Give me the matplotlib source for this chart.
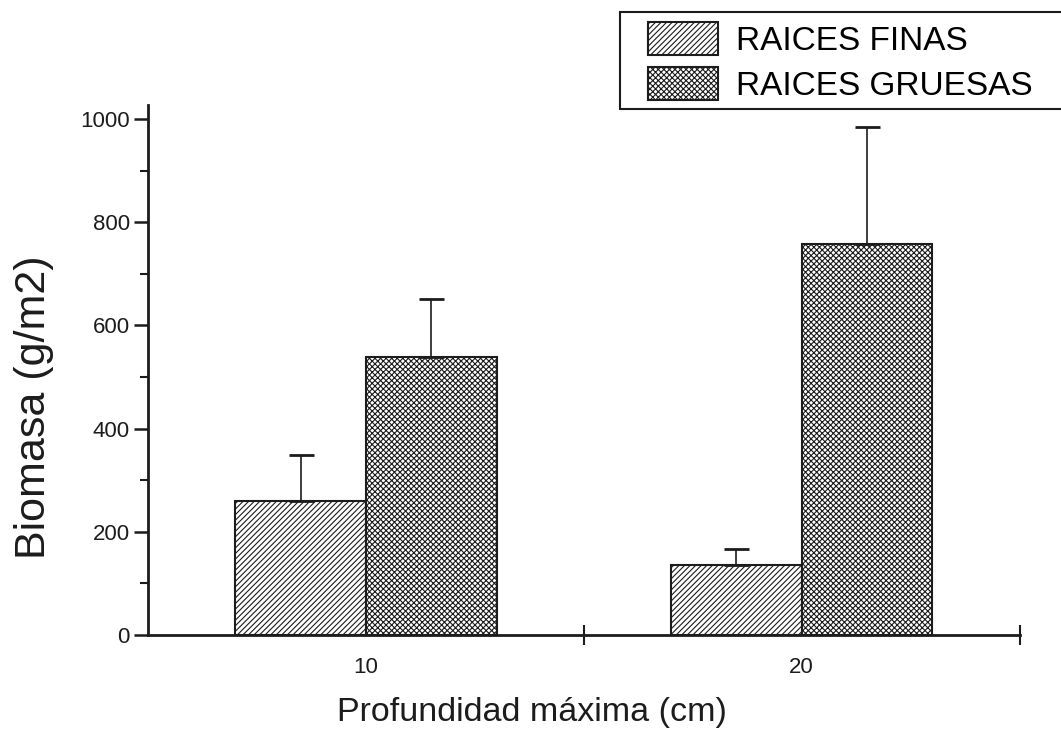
import matplotlib.pyplot as plt
import numpy as np
from matplotlib.patches import Rectangle

plt.rcParams['font.family'] = ['Liberation Sans', 'DejaVu Sans']
plt.rcParams['hatch.linewidth'] = 0.8

profundidad = ['10', '20']
finas = [260, 136]
finas_err = [89, 31]
gruesas = [539, 758]
gruesas_err = [112, 226]

ink = '#1c1c1c'
plt.rcParams['hatch.color'] = ink

fig = plt.figure(figsize=(10.61, 7.40), dpi=100)
ax = fig.add_axes([0.1395, 0.142, 0.8215, 0.716])

x = np.arange(len(profundidad))
w = 0.30

b1 = ax.bar(x - w / 2, finas, w, color='white', edgecolor=ink, linewidth=1.5,
            hatch='//////', label='RAICES FINAS')
b2 = ax.bar(x + w / 2, gruesas, w, color='white', edgecolor=ink, linewidth=1.5,
            hatch='xxxxxx', label='RAICES GRUESAS')
ax.errorbar(x - w / 2, finas, yerr=[np.zeros(2), finas_err], fmt='none',
            ecolor=ink, elinewidth=1.2, capsize=9, capthick=2)
ax.errorbar(x + w / 2, gruesas, yerr=[np.zeros(2), gruesas_err], fmt='none',
            ecolor=ink, elinewidth=1.2, capsize=9, capthick=2)

ax.set_xlim(-0.5, 1.5)
ax.set_ylim(0, 1027)
ax.set_xticks(x)
ax.set_xticklabels(profundidad)
ax.set_xticks([0.5, 1.5], minor=True)
ax.set_yticks(np.arange(0, 1001, 200))
ax.set_yticks(np.arange(100, 1000, 200), minor=True)

for side in ['top', 'right']:
    ax.spines[side].set_visible(False)
for side in ['left', 'bottom']:
    ax.spines[side].set_linewidth(2)
    ax.spines[side].set_color(ink)

ax.tick_params(axis='y', which='major', direction='out', length=10, width=1.8,
               labelsize=16, colors=ink, pad=3)
ax.tick_params(axis='y', which='minor', direction='out', length=6, width=1.5, colors=ink)
ax.tick_params(axis='x', which='major', direction='out', length=0, labelsize=16,
               colors=ink, pad=16)
ax.tick_params(axis='x', which='minor', direction='inout', length=14, width=1.5, colors=ink)

ax.set_xlabel('Profundidad máxima (cm)', fontsize=24.5, color=ink)
ax.xaxis.set_label_coords(0.44, -0.118)
ax.set_ylabel('Biomasa (g/m2)', fontsize=31, color=ink)
ax.yaxis.set_label_coords(-0.108, 0.43)

# legend box runs off the right edge of the figure
fig.patches.append(Rectangle((620 / 1061, 1 - 109 / 740), 460 / 1061, 97 / 740,
                             transform=fig.transFigure, facecolor='white',
                             edgecolor=ink, linewidth=1.5, zorder=0))
fig.legend(handles=[b1, b2], loc='upper left',
           bbox_to_anchor=(648 / 1061, 1 - 22 / 740), fontsize=24,
           frameon=False, handlelength=2.1, handleheight=1.15, labelspacing=0.3,
           borderpad=0, handletextpad=0.55, borderaxespad=0)

fig.savefig('out.png', dpi=100)
